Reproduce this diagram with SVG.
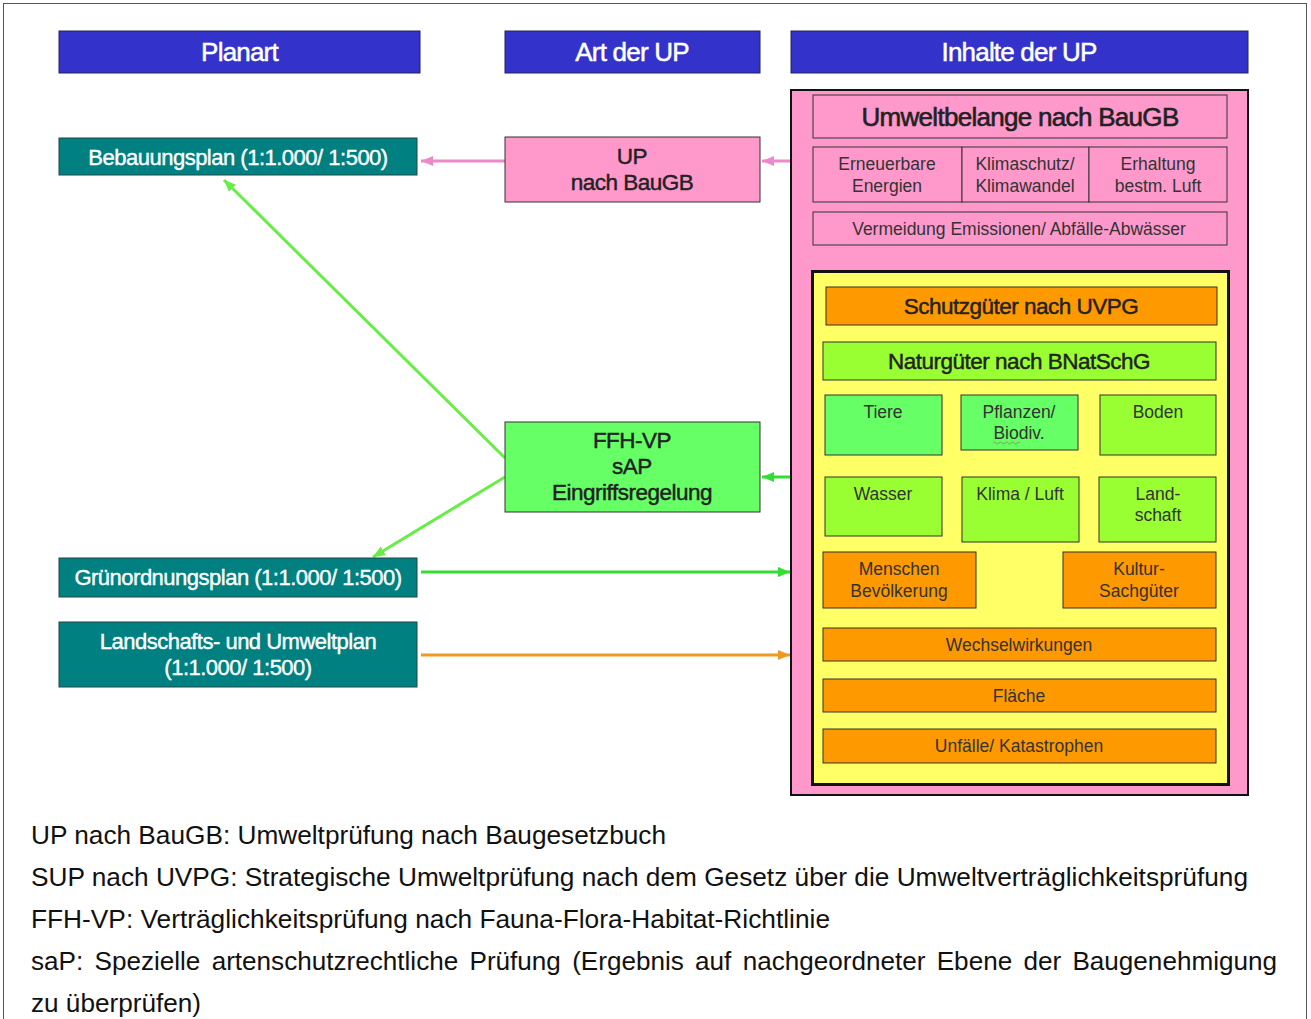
<svg xmlns="http://www.w3.org/2000/svg" width="1311" height="1019" viewBox="0 0 1311 1019">
<defs>
<style>
text{font-family:"Liberation Sans",Arial,sans-serif;text-anchor:middle}
.hd{fill:#3333CC;stroke:#222255;stroke-width:1}
.hdt{fill:#fff;font-size:26px;stroke:#fff;stroke-width:0.5;letter-spacing:-0.8px}
.teal{fill:#008080;stroke:#224444;stroke-width:1}
.tealt{fill:#fff;font-size:22px;stroke:#fff;stroke-width:0.4;letter-spacing:-0.5px}
.pink{fill:#FF99CC;stroke:#333;stroke-width:1}
.lg{fill:#66FF66;stroke:#333;stroke-width:1}
.yg{fill:#99FF33;stroke:#333;stroke-width:1}
.or{fill:#FF9900;stroke:#333;stroke-width:1}
.t16{fill:#333;font-size:17.5px}
.t20{fill:#222;font-size:22.5px;stroke:#222;stroke-width:0.45;letter-spacing:-0.5px}
.t24{fill:#222;font-size:26px;stroke:#222;stroke-width:0.6;letter-spacing:-0.7px}
.foot{fill:#111;font-size:26px;text-anchor:start}
.cp{fill:none;stroke:#EE88C8;stroke-width:3}
.cg{fill:none;stroke:#66EE44;stroke-width:3}
.cg2{fill:none;stroke:#33DD33;stroke-width:3}
.co{fill:none;stroke:#EE9922;stroke-width:3}
</style>
<marker id="ap" viewBox="0 0 12 10" refX="12" refY="5" markerWidth="12" markerHeight="10" markerUnits="userSpaceOnUse" orient="auto"><path d="M0,0 L12,5 L0,10 z" fill="#EE88C8"/></marker>
<marker id="ag" viewBox="0 0 12 10" refX="12" refY="5" markerWidth="12" markerHeight="10" markerUnits="userSpaceOnUse" orient="auto"><path d="M0,0 L12,5 L0,10 z" fill="#66EE44"/></marker>
<marker id="ag2" viewBox="0 0 12 10" refX="12" refY="5" markerWidth="12" markerHeight="10" markerUnits="userSpaceOnUse" orient="auto"><path d="M0,0 L12,5 L0,10 z" fill="#33DD33"/></marker>
<marker id="ao" viewBox="0 0 12 10" refX="12" refY="5" markerWidth="12" markerHeight="10" markerUnits="userSpaceOnUse" orient="auto"><path d="M0,0 L12,5 L0,10 z" fill="#EE9922"/></marker>
</defs>
<rect x="0" y="0" width="1311" height="1019" fill="#fff"/>
<rect x="3.5" y="3.5" width="1303" height="1040" fill="none" stroke="#555" stroke-width="1"/>

<g id="headers">
<g id="h-planart"><rect class="hd" x="59" y="31" width="361" height="42"/><text class="hdt" x="239.5" y="61">Planart</text></g>
<g id="h-art"><rect class="hd" x="505" y="31" width="255" height="42"/><text class="hdt" x="632" y="61">Art der UP</text></g>
<g id="h-inhalte"><rect class="hd" x="791" y="31" width="457" height="42"/><text class="hdt" x="1019" y="61">Inhalte der UP</text></g>
</g>

<g id="connectors">
<line class="cp" x1="505" y1="161" x2="421" y2="161" marker-end="url(#ap)"/>
<line class="cp" x1="791" y1="161" x2="762" y2="161" marker-end="url(#ap)"/>
<line class="cg" x1="505" y1="458" x2="224" y2="180" marker-end="url(#ag)"/>
<line class="cg" x1="505" y1="477" x2="373" y2="557" marker-end="url(#ag)"/>
<line class="cg2" x1="791" y1="477" x2="762" y2="477" marker-end="url(#ag2)"/>
<line class="cg2" x1="421" y1="572" x2="790" y2="572" marker-end="url(#ag2)"/>
<line class="co" x1="421" y1="655" x2="790" y2="655" marker-end="url(#ao)"/>
</g>

<g id="bebauungsplan"><rect class="teal" x="59" y="138" width="358" height="37"/><text class="tealt" x="238" y="164.5">Bebauungsplan (1:1.000/ 1:500)</text></g>
<g id="gruenordnungsplan"><rect class="teal" x="59" y="558" width="358" height="39"/><text class="tealt" x="238" y="585">Grünordnungsplan (1:1.000/ 1:500)</text></g>
<g id="landschaftsplan"><rect class="teal" x="59" y="622" width="358" height="65"/><text class="tealt" x="238" y="649">Landschafts- und Umweltplan</text><text class="tealt" x="238" y="675">(1:1.000/ 1:500)</text></g>

<g id="up-baugb"><rect class="pink" x="505" y="137" width="255" height="65"/><text class="t20" x="632" y="164">UP</text><text class="t20" x="632" y="190">nach BauGB</text></g>
<g id="ffh-vp"><rect class="lg" x="505" y="422" width="255" height="90"/><text class="t20" x="632" y="448">FFH-VP</text><text class="t20" x="632" y="474">sAP</text><text class="t20" x="632" y="500">Eingriffsregelung</text></g>

<g id="inhalte">
<rect x="791" y="90" width="457" height="705" fill="#FF99CC" stroke="#111" stroke-width="2"/>
<g id="umweltbelange"><rect class="pink" x="813" y="95" width="414" height="43"/><text class="t24" x="1020" y="126">Umweltbelange nach BauGB</text></g>
<g id="erneuerbare"><rect class="pink" x="813" y="147" width="149" height="55"/><text class="t16" x="887" y="170">Erneuerbare</text><text class="t16" x="887" y="192">Energien</text></g>
<g id="klimaschutz"><rect class="pink" x="962" y="147" width="127" height="55"/><text class="t16" x="1025" y="170">Klimaschutz/</text><text class="t16" x="1025" y="192">Klimawandel</text></g>
<g id="erhaltung"><rect class="pink" x="1089" y="147" width="138" height="55"/><text class="t16" x="1158" y="170">Erhaltung</text><text class="t16" x="1158" y="192">bestm. Luft</text></g>
<g id="vermeidung"><rect class="pink" x="813" y="212" width="414" height="33"/><text class="t16" x="1019" y="234.5">Vermeidung Emissionen/ Abfälle-Abwässer</text></g>

<rect x="812.5" y="271.5" width="416" height="513" fill="#FFFF66" stroke="#111" stroke-width="3"/>
<g id="schutzgueter"><rect class="or" x="826" y="287" width="391" height="38"/><text class="t20" x="1021" y="314">Schutzgüter nach UVPG</text></g>
<g id="naturgueter"><rect class="yg" x="823" y="342" width="393" height="38"/><text class="t20" x="1019" y="369">Naturgüter nach BNatSchG</text></g>
<g id="tiere"><rect class="lg" x="825" y="395" width="117" height="60"/><text class="t16" x="883" y="418">Tiere</text></g>
<g id="pflanzen"><rect class="lg" x="961" y="395" width="117" height="55"/><text class="t16" x="1019" y="418">Pflanzen/</text><text class="t16" x="1019" y="439">Biodiv.</text><path d="M993,443 q1.5,-2 3,0 t3,0 t3,0 t3,0 t3,0 t3,0 t3,0 t3,0 t3,0" fill="none" stroke="#CC6666" stroke-width="0.8"/></g>
<g id="boden"><rect class="yg" x="1100" y="395" width="116" height="60"/><text class="t16" x="1158" y="418">Boden</text></g>
<g id="wasser"><rect class="yg" x="825" y="477" width="117" height="59"/><text class="t16" x="883" y="500">Wasser</text></g>
<g id="klima"><rect class="yg" x="962" y="477" width="117" height="65"/><text class="t16" x="1020" y="500">Klima / Luft</text></g>
<g id="landschaft"><rect class="yg" x="1099" y="477" width="117" height="65"/><text class="t16" x="1158" y="500">Land-</text><text class="t16" x="1158" y="521">schaft</text></g>
<g id="menschen"><rect class="or" x="823" y="552" width="153" height="56"/><text class="t16" x="899" y="575">Menschen</text><text class="t16" x="899" y="597">Bevölkerung</text></g>
<g id="kultur"><rect class="or" x="1063" y="552" width="153" height="56"/><text class="t16" x="1139" y="575">Kultur-</text><text class="t16" x="1139" y="597">Sachgüter</text></g>
<g id="wechselwirkungen"><rect class="or" x="823" y="628" width="393" height="33"/><text class="t16" x="1019" y="651">Wechselwirkungen</text></g>
<g id="flaeche"><rect class="or" x="823" y="679" width="393" height="33"/><text class="t16" x="1019" y="702">Fläche</text></g>
<g id="unfaelle"><rect class="or" x="823" y="729" width="393" height="34"/><text class="t16" x="1019" y="752">Unfälle/ Katastrophen</text></g>
</g>

<g id="legend">
<text class="foot" x="31" y="844" textLength="635" lengthAdjust="spacingAndGlyphs">UP nach BauGB: Umweltprüfung nach Baugesetzbuch</text>
<text class="foot" x="31" y="886" textLength="1217" lengthAdjust="spacingAndGlyphs">SUP nach UVPG: Strategische Umweltprüfung nach dem Gesetz über die Umweltverträglichkeitsprüfung</text>
<text class="foot" x="31" y="928" textLength="799" lengthAdjust="spacingAndGlyphs">FFH-VP: Verträglichkeitsprüfung nach Fauna-Flora-Habitat-Richtlinie</text>
<text class="foot" x="31" y="970" textLength="1246" lengthAdjust="spacingAndGlyphs" word-spacing="4">saP: Spezielle artenschutzrechtliche Prüfung (Ergebnis auf nachgeordneter Ebene der Baugenehmigung</text>
<text class="foot" x="31" y="1012" textLength="170" lengthAdjust="spacingAndGlyphs">zu überprüfen)</text>
</g>
</svg>
